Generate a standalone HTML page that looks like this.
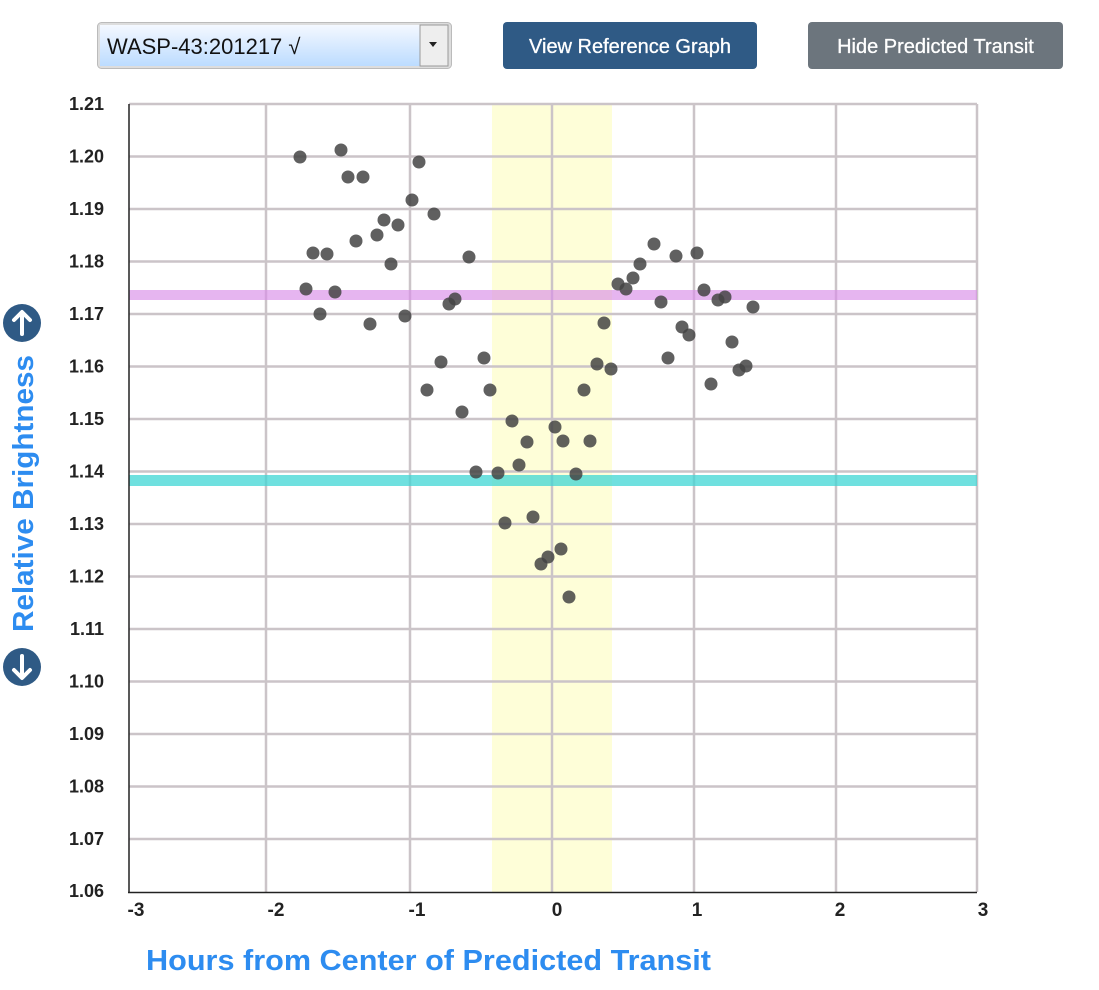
<!DOCTYPE html>
<html><head><style>
body{margin:0;width:1099px;height:985px;background:#fff;overflow:hidden;font-family:"Liberation Sans",sans-serif}
</style></head><body>
<svg width="1099" height="985" xmlns="http://www.w3.org/2000/svg" font-family="Liberation Sans, sans-serif">
<defs><linearGradient id="g" x1="0" y1="0" x2="0" y2="1"><stop offset="0" stop-color="#f4f8ff"/><stop offset="1" stop-color="#bcdcff"/></linearGradient></defs>
<rect x="97.5" y="22.5" width="354" height="46" rx="4" fill="#ddd" stroke="#bbb"/>
<rect x="100" y="25" width="320" height="41" fill="url(#g)"/>
<rect x="420" y="25" width="28" height="41" fill="#eee" stroke="#999"/>
<path d="M429 42 h8 l-4 5z" fill="#222"/>
<text x="107" y="54" font-size="22" fill="#111">WASP-43:201217 √</text>
<rect x="503" y="22" width="254" height="47" rx="4" fill="#2f5a85"/>
<text x="630" y="53" font-size="20" fill="#fff" text-anchor="middle" stroke="#fff" stroke-width="0.3">View Reference Graph</text>
<rect x="808" y="22" width="255" height="47" rx="4" fill="#6c757d"/>
<text x="935.5" y="53" font-size="20" fill="#fff" text-anchor="middle" stroke="#fff" stroke-width="0.3">Hide Predicted Transit</text>
<rect x="492" y="104" width="120" height="788" fill="#fefed8"/>
<g stroke="#cbc4c8" stroke-width="2.5">
<line x1="266" y1="104" x2="266" y2="892"/><line x1="410" y1="104" x2="410" y2="892"/><line x1="552" y1="104" x2="552" y2="892"/><line x1="694" y1="104" x2="694" y2="892"/><line x1="836" y1="104" x2="836" y2="892"/><line x1="977" y1="104" x2="977" y2="892"/>
<line x1="129" y1="104" x2="977" y2="104"/><line x1="129" y1="156.5" x2="977" y2="156.5"/><line x1="129" y1="209" x2="977" y2="209"/><line x1="129" y1="261.5" x2="977" y2="261.5"/><line x1="129" y1="314" x2="977" y2="314"/><line x1="129" y1="366.5" x2="977" y2="366.5"/><line x1="129" y1="419" x2="977" y2="419"/><line x1="129" y1="471.5" x2="977" y2="471.5"/><line x1="129" y1="524" x2="977" y2="524"/><line x1="129" y1="576.5" x2="977" y2="576.5"/><line x1="129" y1="629" x2="977" y2="629"/><line x1="129" y1="681.5" x2="977" y2="681.5"/><line x1="129" y1="734" x2="977" y2="734"/><line x1="129" y1="786.5" x2="977" y2="786.5"/><line x1="129" y1="839" x2="977" y2="839"/>
</g>
<rect x="129" y="290" width="848" height="10" fill="#d98ee8" opacity="0.65"/>
<rect x="129" y="475" width="848" height="11" fill="#3fd6d4" opacity="0.75"/>
<line x1="129" y1="104" x2="129" y2="893" stroke="#222" stroke-width="1.5"/>
<line x1="128" y1="892.5" x2="977" y2="892.5" stroke="#222" stroke-width="1.5"/>
<g fill="#444" fill-opacity="0.85">
<circle cx="300" cy="157" r="6.5"/><circle cx="341" cy="150" r="6.5"/><circle cx="348" cy="177" r="6.5"/><circle cx="363" cy="177" r="6.5"/><circle cx="419" cy="162" r="6.5"/><circle cx="412" cy="200" r="6.5"/><circle cx="434" cy="214" r="6.5"/><circle cx="384" cy="220" r="6.5"/><circle cx="398" cy="225" r="6.5"/><circle cx="377" cy="235" r="6.5"/><circle cx="356" cy="241" r="6.5"/><circle cx="313" cy="253" r="6.5"/><circle cx="327" cy="254" r="6.5"/><circle cx="391" cy="264" r="6.5"/><circle cx="469" cy="257" r="6.5"/><circle cx="306" cy="289" r="6.5"/><circle cx="335" cy="292" r="6.5"/><circle cx="320" cy="314" r="6.5"/><circle cx="370" cy="324" r="6.5"/><circle cx="405" cy="316" r="6.5"/><circle cx="455" cy="299" r="6.5"/><circle cx="449" cy="304" r="6.5"/><circle cx="441" cy="362" r="6.5"/><circle cx="484" cy="358" r="6.5"/><circle cx="427" cy="390" r="6.5"/><circle cx="490" cy="390" r="6.5"/><circle cx="462" cy="412" r="6.5"/><circle cx="512" cy="421" r="6.5"/><circle cx="527" cy="442" r="6.5"/><circle cx="476" cy="472" r="6.5"/><circle cx="498" cy="473" r="6.5"/><circle cx="519" cy="465" r="6.5"/><circle cx="555" cy="427" r="6.5"/><circle cx="563" cy="441" r="6.5"/><circle cx="576" cy="474" r="6.5"/><circle cx="505" cy="523" r="6.5"/><circle cx="533" cy="517" r="6.5"/><circle cx="541" cy="564" r="6.5"/><circle cx="548" cy="557" r="6.5"/><circle cx="561" cy="549" r="6.5"/><circle cx="569" cy="597" r="6.5"/><circle cx="584" cy="390" r="6.5"/><circle cx="590" cy="441" r="6.5"/><circle cx="597" cy="364" r="6.5"/><circle cx="604" cy="323" r="6.5"/><circle cx="611" cy="369" r="6.5"/><circle cx="618" cy="284" r="6.5"/><circle cx="626" cy="289" r="6.5"/><circle cx="633" cy="278" r="6.5"/><circle cx="640" cy="264" r="6.5"/><circle cx="654" cy="244" r="6.5"/><circle cx="661" cy="302" r="6.5"/><circle cx="676" cy="256" r="6.5"/><circle cx="697" cy="253" r="6.5"/><circle cx="682" cy="327" r="6.5"/><circle cx="689" cy="335" r="6.5"/><circle cx="668" cy="358" r="6.5"/><circle cx="704" cy="290" r="6.5"/><circle cx="718" cy="300" r="6.5"/><circle cx="725" cy="297" r="6.5"/><circle cx="732" cy="342" r="6.5"/><circle cx="711" cy="384" r="6.5"/><circle cx="739" cy="370" r="6.5"/><circle cx="746" cy="366" r="6.5"/><circle cx="753" cy="307" r="6.5"/>
</g>
<g font-size="18" font-weight="bold" fill="#222" text-anchor="end">
<text x="104" y="110">1.21</text><text x="104" y="162.5">1.20</text><text x="104" y="215">1.19</text><text x="104" y="267.5">1.18</text><text x="104" y="320">1.17</text><text x="104" y="372.5">1.16</text><text x="104" y="425">1.15</text><text x="104" y="477.5">1.14</text><text x="104" y="530">1.13</text><text x="104" y="582.5">1.12</text><text x="104" y="635">1.11</text><text x="104" y="687.5">1.10</text><text x="104" y="740">1.09</text><text x="104" y="792.5">1.08</text><text x="104" y="845">1.07</text><text x="104" y="897">1.06</text>
</g>
<g font-size="19" font-weight="bold" fill="#222" text-anchor="middle">
<text x="136" y="916">-3</text><text x="276" y="916">-2</text><text x="417" y="916">-1</text><text x="557" y="916">0</text><text x="697" y="916">1</text><text x="840" y="916">2</text><text x="983" y="916">3</text>
</g>
<text x="146" y="970" font-size="29" font-weight="bold" fill="#2d8cf0" textLength="565" lengthAdjust="spacingAndGlyphs">Hours from Center of Predicted Transit</text>
<text transform="translate(33,632) rotate(-90)" font-size="29" font-weight="bold" fill="#2d8cf0" textLength="277" lengthAdjust="spacingAndGlyphs">Relative Brightness</text>
<circle cx="22" cy="323" r="19" fill="#2f5a85"/>
<path d="M22 334 V313 M14 320 L22 312 L30 320" stroke="#fff" stroke-width="4" fill="none" stroke-linecap="round" stroke-linejoin="round"/>
<circle cx="22" cy="667" r="19" fill="#2f5a85"/>
<path d="M22 656 V677 M14 670 L22 678 L30 670" stroke="#fff" stroke-width="4" fill="none" stroke-linecap="round" stroke-linejoin="round"/>
</svg>
</body></html>
